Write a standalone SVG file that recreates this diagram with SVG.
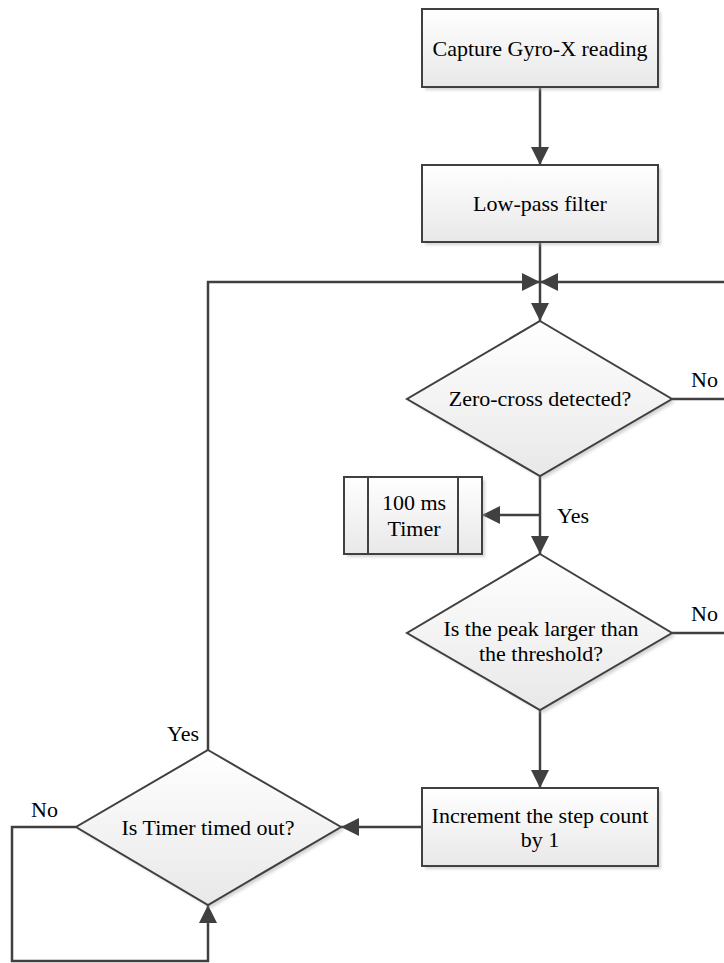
<svg xmlns="http://www.w3.org/2000/svg" width="724" height="963" viewBox="0 0 724 963" font-family="'Liberation Serif', 'DejaVu Serif', serif">
<defs>
<linearGradient id="g" x1="0" y1="0" x2="0" y2="1">
<stop offset="0" stop-color="#ffffff"/>
<stop offset="1" stop-color="#e8e8e8"/>
</linearGradient>
<filter id="sh" x="-10%" y="-10%" width="130%" height="130%">
<feGaussianBlur stdDeviation="1.5"/>
</filter>
<marker id="ah" viewBox="0 0 18 18" refX="18" refY="9" markerWidth="18" markerHeight="18" markerUnits="userSpaceOnUse" orient="auto">
<path d="M0,0 L18,9 L0,18 Z" fill="#404040"/>
</marker>
</defs>
<style>
.shape{fill:url(#g);stroke:#404040;stroke-width:2}
.shadow{fill:#b0b0b0;opacity:0.55;filter:url(#sh)}
text{font-family:'Liberation Serif','DejaVu Serif',serif;font-size:22px;fill:#000}
.t{text-anchor:middle}
.c{fill:none;stroke:#404040;stroke-width:2.5}
</style>
<rect width="724" height="963" fill="#ffffff"/>

<g id="connectors">
<path class="c" d="M540,87 V165" marker-end="url(#ah)"/>
<path class="c" d="M540,242 V321" marker-end="url(#ah)"/>
<path class="c" d="M208,750 V282 H540" marker-end="url(#ah)"/>
<path class="c" d="M672,399 H726 V282 H540" marker-end="url(#ah)"/>
<path class="c" d="M540,476 V554" marker-end="url(#ah)"/>
<path class="c" d="M540,515 H482" marker-end="url(#ah)"/>
<path class="c" d="M672,633 H726"/>
<path class="c" d="M540,710 V788" marker-end="url(#ah)"/>
<path class="c" d="M422,827 H341" marker-end="url(#ah)"/>
<path class="c" d="M76,827 H12 V961 H208 V905" marker-end="url(#ah)"/>
<text x="691" y="387">No</text>
<text x="557" y="523">Yes</text>
<text x="691" y="621">No</text>
<text x="167" y="741">Yes</text>
<text x="31" y="817">No</text>
</g>

<g id="capture">
<rect class="shadow" x="425" y="12" width="236" height="78"/>
<rect class="shape" x="422" y="9" width="236" height="78"/>
<text class="t" x="540" y="56">Capture Gyro-X reading</text>
</g>

<g id="lowpass">
<rect class="shadow" x="425" y="168" width="236" height="77"/>
<rect class="shape" x="422" y="165" width="236" height="77"/>
<text class="t" x="540" y="211">Low-pass filter</text>
</g>

<g id="zerocross">
<path class="shadow" d="M543,324 L675,402 L543,479 L410,402 Z"/>
<path class="shape" d="M540,321 L672,399 L540,476 L407,399 Z"/>
<text class="t" x="540" y="406">Zero-cross detected?</text>
</g>

<g id="timer">
<rect class="shadow" x="347" y="480" width="138" height="77"/>
<rect class="shape" x="344" y="477" width="138" height="77"/>
<line x1="368" y1="477" x2="368" y2="554" stroke="#404040" stroke-width="2"/>
<line x1="458" y1="477" x2="458" y2="554" stroke="#404040" stroke-width="2"/>
<text class="t" x="414" y="510">100 ms</text>
<text class="t" x="414" y="536">Timer</text>
</g>

<g id="peak">
<path class="shadow" d="M543,557 L675,636 L543,713 L410,636 Z"/>
<path class="shape" d="M540,554 L672,633 L540,710 L407,633 Z"/>
<text class="t" x="541" y="636">Is the peak larger than</text>
<text class="t" x="541" y="661">the threshold?</text>
</g>

<g id="increment">
<rect class="shadow" x="425" y="791" width="236" height="78"/>
<rect class="shape" x="422" y="788" width="236" height="78"/>
<text class="t" x="540" y="823">Increment the step count</text>
<text class="t" x="540" y="847">by 1</text>
</g>

<g id="timeout">
<path class="shadow" d="M211,753 L344,830 L211,908 L79,830 Z"/>
<path class="shape" d="M208,750 L341,827 L208,905 L76,827 Z"/>
<text class="t" x="208" y="835">Is Timer timed out?</text>
</g>
</svg>
